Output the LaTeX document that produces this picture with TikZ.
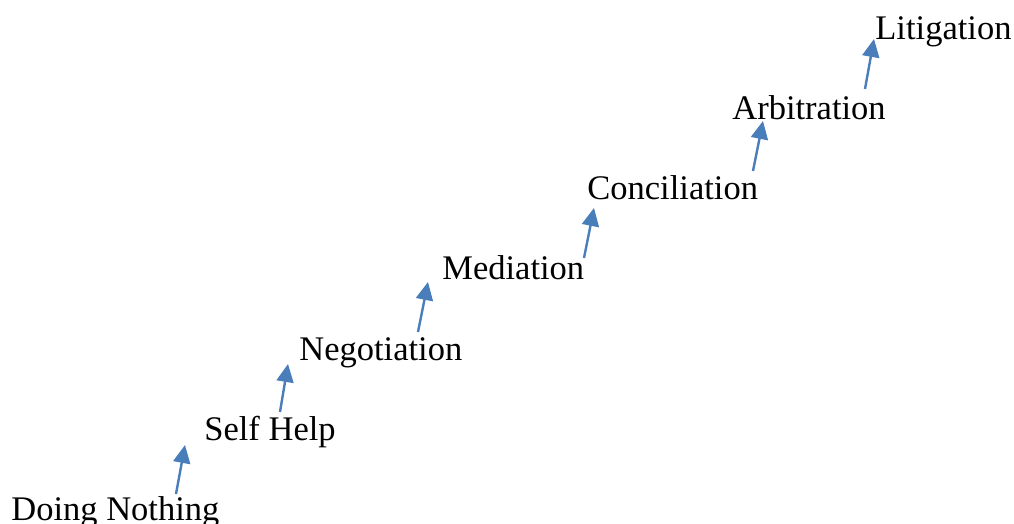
\documentclass[tikz,border=0pt]{standalone}
\usepackage{fontspec}
\setmainfont{Liberation Serif}
\usetikzlibrary{arrows.meta}
\definecolor{stepblue}{RGB}{74,126,187}

\begin{document}
\begin{tikzpicture}[x=0.5pt, y=-0.5pt,
    rung/.style={anchor=base west, inner sep=0pt, font=\fontsize{17.25}{20}\selectfont},
    climb/.style={draw=stepblue, line width=1.2pt,
      -{Triangle[length=9pt, width=8.5pt, fill=stepblue]}}]
    \useasboundingbox (0,0) rectangle (1014,524);
    \node[rung] (doing) at (11,520) {Doing Nothing};
    \node[rung] (self)  at (204,440) {Self Help};
    \node[rung] (nego)  at (299,360) {Negotiation};
    \node[rung] (medi)  at (442,280) {Mediation};
    \node[rung] (conc)  at (587,200) {Conciliation};
    \node[rung] (arbi)  at (732,120) {Arbitration};
    \node[rung] (liti)  at (875,40)  {Litigation};
    \coordinate (s1) at (176,494); \coordinate (e1) at (185,445);
    \coordinate (s2) at (280,412); \coordinate (e2) at (288,364);
    \coordinate (s3) at (418,332); \coordinate (e3) at (428,282);
    \coordinate (s4) at (584,258); \coordinate (e4) at (594,208);
    \coordinate (s5) at (753,171); \coordinate (e5) at (763,121);
    \coordinate (s6) at (865,89);  \coordinate (e6) at (874,39);
    \foreach \i in {1,...,6}
      \draw[climb] (s\i) -- (e\i);
\end{tikzpicture}
\end{document}
